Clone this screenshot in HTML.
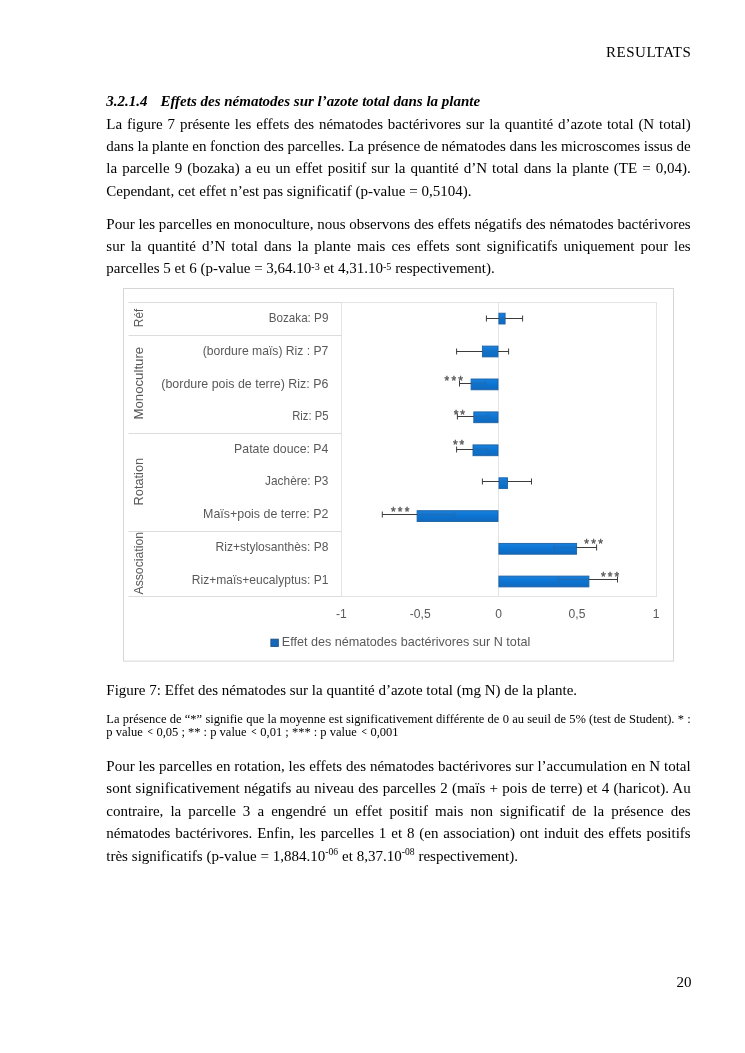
<!DOCTYPE html>
<html lang="fr"><head><meta charset="utf-8"><title>RESULTATS</title>
<style>
html,body{margin:0;padding:0;background:#fff;}
body{width:745px;height:1053px;position:relative;overflow:hidden;font-family:"Liberation Serif",serif;color:#000;}
.l{position:absolute;left:106.3px;width:584.4px;font-size:15px;line-height:20px;height:20px;white-space:nowrap;text-align:justify;text-align-last:justify;}
.l.e{text-align:left;text-align-last:left;width:auto;}
.s{font-size:12.5px;}
sup{font-size:10px;line-height:0;vertical-align:baseline;position:relative;top:-3.4px;}
sup.h{font-size:9.6px;top:-6px;}
.lt{display:inline-block;width:7px;padding-right:0.4px;text-align:right;text-align-last:right;font-size:9.5px;font-weight:bold;line-height:0;position:relative;top:-0.6px;}
#chart{position:absolute;left:0;top:0;}
#chart text{font-family:"Liberation Sans",sans-serif;fill:#595959;}
</style></head><body>
<div class="l e" style="left:auto;right:53.6px;top:42px;letter-spacing:0.52px;">RESULTATS</div>
<div class="l e" style="top:91px;font-weight:bold;font-style:italic;"><span style="margin-right:1.6px">3.2.1.4</span>&nbsp;&nbsp; Effets des nématodes sur l’azote total dans la plante</div>
<div class="l" style="top:114px;">La figure 7 présente les effets des nématodes bactérivores sur la quantité d’azote total (N total)</div>
<div class="l" style="top:136px;word-spacing:-0.08px;">dans la plante en fonction des parcelles. La présence de nématodes dans les microscomes issus de</div>
<div class="l" style="top:158px;">la parcelle 9 (bozaka) a eu un effet positif sur la quantité d’N total dans la plante (TE = 0,04).</div>
<div class="l e" style="top:181px;">Cependant, cet effet n’est pas significatif (p-value = 0,5104).</div>
<div class="l" style="top:214px;">Pour les parcelles en monoculture, nous observons des effets négatifs des nématodes bactérivores</div>
<div class="l" style="top:236px;">sur la quantité d’N total dans la plante mais ces effets sont significatifs uniquement pour les</div>
<div class="l e" style="top:258px;">parcelles 5 et 6 (p-value = 3,64.10<sup>-3</sup> et 4,31.10<sup>-5</sup> respectivement).</div>

<div class="l e" style="top:680px;">Figure 7: Effet des nématodes sur la quantité d’azote total (mg N) de la plante.</div>
<div class="l s" style="top:709px;">La présence de “*” signifie que la moyenne est significativement différente de 0 au seuil de 5% (test de Student). * :</div>
<div class="l s e" style="top:722px;">p value <span class="lt">&lt;</span> 0,05 ; ** : p value <span class="lt">&lt;</span> 0,01 ; *** : p value <span class="lt">&lt;</span> 0,001</div>
<div class="l" style="top:756px;">Pour les parcelles en rotation, les effets des nématodes bactérivores sur l’accumulation en N total</div>
<div class="l" style="top:778px;">sont significativement négatifs au niveau des parcelles 2 (maïs + pois de terre) et 4 (haricot). Au</div>
<div class="l" style="top:801px;">contraire, la parcelle 3 a engendré un effet positif mais non significatif de la présence des</div>
<div class="l" style="top:823px;">nématodes bactérivores. Enfin, les parcelles 1 et 8 (en association) ont induit des effets positifs</div>
<div class="l e" style="top:846px;word-spacing:0.15px;">très significatifs (p-value = 1,884.10<sup class="h">-06</sup> et 8,37.10<sup class="h">-08</sup> respectivement).</div>
<div class="l e" style="left:auto;right:53.6px;top:972px;">20</div>

<svg id="chart" width="745" height="1053" viewBox="0 0 745 1053">
<defs><linearGradient id="bg" x1="0" y1="0" x2="0" y2="1"><stop offset="0" stop-color="#1a80dc"/><stop offset="0.5" stop-color="#0b74d2"/><stop offset="1" stop-color="#1268bc"/></linearGradient></defs>
<rect x="123.5" y="288.5" width="550" height="372.6" fill="#fff" stroke="#d6d6d6"/>
<rect x="341.5" y="302.5" width="315" height="294" fill="none" stroke="#e4e4e4"/>
<path d="M128.5 302.5H341.5M128.5 335.5H341.5M128.5 433.5H341.5M128.5 531.5H341.5M128.5 596.5H341.5" stroke="#dcdcdc" fill="none"/>
<path d="M498.5 302.5V596.5" stroke="#e2e4e8" fill="none"/>
<rect x="498.9" y="313.2" width="6.2" height="10.8" fill="url(#bg)" stroke="#1c62a4" stroke-width="0.9"/>
<rect x="482.4" y="346.1" width="15.6" height="10.8" fill="url(#bg)" stroke="#1c62a4" stroke-width="0.9"/>
<rect x="471.1" y="379.0" width="26.9" height="10.8" fill="url(#bg)" stroke="#1c62a4" stroke-width="0.9"/>
<rect x="473.8" y="411.9" width="24.2" height="10.8" fill="url(#bg)" stroke="#1c62a4" stroke-width="0.9"/>
<rect x="473.0" y="444.9" width="25.0" height="10.8" fill="url(#bg)" stroke="#1c62a4" stroke-width="0.9"/>
<rect x="499.0" y="477.8" width="8.5" height="10.8" fill="url(#bg)" stroke="#1c62a4" stroke-width="0.9"/>
<rect x="417.1" y="510.7" width="80.9" height="10.8" fill="url(#bg)" stroke="#1c62a4" stroke-width="0.9"/>
<rect x="498.9" y="543.4" width="77.7" height="10.8" fill="url(#bg)" stroke="#1c62a4" stroke-width="0.9"/>
<rect x="498.9" y="576.1" width="90.0" height="10.8" fill="url(#bg)" stroke="#1c62a4" stroke-width="0.9"/>
<path d="M498.9 318.5H505.1" stroke="#35618c" stroke-opacity="0.3" stroke-width="1.8" fill="none"/>
<path d="M486.4 318.5H498.9M486.4 315.5V321.5M505.1 318.5H522.6M522.6 315.5V321.5" stroke="#3c3c3c" stroke-width="1" fill="none"/>
<path d="M482.4 351.5H498.0" stroke="#35618c" stroke-opacity="0.3" stroke-width="1.8" fill="none"/>
<path d="M456.6 351.5H482.4M456.6 348.5V354.5M498.0 351.5H508.6M508.6 348.5V354.5" stroke="#3c3c3c" stroke-width="1" fill="none"/>
<path d="M471.1 383.5H485.6" stroke="#35618c" stroke-opacity="0.3" stroke-width="1.8" fill="none"/>
<path d="M459.5 383.5H471.1M459.5 380.5V386.5" stroke="#3c3c3c" stroke-width="1" fill="none"/>
<path d="M485.6 380.5V386.5" stroke="#35618c" stroke-opacity="0.35" stroke-width="1.4" fill="none"/>
<path d="M473.8 416.5H488.0" stroke="#35618c" stroke-opacity="0.3" stroke-width="1.8" fill="none"/>
<path d="M457.4 416.5H473.8M457.4 413.5V419.5" stroke="#3c3c3c" stroke-width="1" fill="none"/>
<path d="M488.0 413.5V419.5" stroke="#35618c" stroke-opacity="0.35" stroke-width="1.4" fill="none"/>
<path d="M473.0 449.5H488.0" stroke="#35618c" stroke-opacity="0.3" stroke-width="1.8" fill="none"/>
<path d="M456.6 449.5H473.0M456.6 446.5V452.5" stroke="#3c3c3c" stroke-width="1" fill="none"/>
<path d="M488.0 446.5V452.5" stroke="#35618c" stroke-opacity="0.35" stroke-width="1.4" fill="none"/>
<path d="M499.0 481.5H507.5" stroke="#35618c" stroke-opacity="0.3" stroke-width="1.8" fill="none"/>
<path d="M482.4 481.5H499.0M482.4 478.5V484.5M507.5 481.5H531.5M531.5 478.5V484.5" stroke="#3c3c3c" stroke-width="1" fill="none"/>
<path d="M417.1 514.5H454.5" stroke="#35618c" stroke-opacity="0.3" stroke-width="1.8" fill="none"/>
<path d="M382.3 514.5H417.1M382.3 511.5V517.5" stroke="#3c3c3c" stroke-width="1" fill="none"/>
<path d="M454.5 511.5V517.5" stroke="#35618c" stroke-opacity="0.35" stroke-width="1.4" fill="none"/>
<path d="M554.0 547.5H576.6" stroke="#35618c" stroke-opacity="0.3" stroke-width="1.8" fill="none"/>
<path d="M576.6 547.5H596.6M596.6 544.5V550.5" stroke="#3c3c3c" stroke-width="1" fill="none"/>
<path d="M554.0 544.5V550.5" stroke="#35618c" stroke-opacity="0.35" stroke-width="1.4" fill="none"/>
<path d="M558.4 579.5H588.9" stroke="#35618c" stroke-opacity="0.3" stroke-width="1.8" fill="none"/>
<path d="M588.9 579.5H617.5M617.5 576.5V582.5" stroke="#3c3c3c" stroke-width="1" fill="none"/>
<path d="M558.4 576.5V582.5" stroke="#35618c" stroke-opacity="0.35" stroke-width="1.4" fill="none"/>
<text x="446.8" y="384.6" font-size="12" text-anchor="middle" stroke="#595959" stroke-width="0.4">*</text>
<text x="453.8" y="384.6" font-size="12" text-anchor="middle" stroke="#595959" stroke-width="0.4">*</text>
<text x="460.7" y="384.6" font-size="12" text-anchor="middle" stroke="#595959" stroke-width="0.4">*</text>
<text x="456.0" y="418.8" font-size="12" text-anchor="middle" stroke="#595959" stroke-width="0.4">*</text>
<text x="462.7" y="418.8" font-size="12" text-anchor="middle" stroke="#595959" stroke-width="0.4">*</text>
<text x="455.3" y="448.5" font-size="12" text-anchor="middle" stroke="#595959" stroke-width="0.4">*</text>
<text x="461.8" y="448.5" font-size="12" text-anchor="middle" stroke="#595959" stroke-width="0.4">*</text>
<text x="393.4" y="516.4" font-size="12" text-anchor="middle" stroke="#595959" stroke-width="0.4">*</text>
<text x="400.2" y="516.4" font-size="12" text-anchor="middle" stroke="#595959" stroke-width="0.4">*</text>
<text x="407.1" y="516.4" font-size="12" text-anchor="middle" stroke="#595959" stroke-width="0.4">*</text>
<text x="586.5" y="547.6" font-size="12" text-anchor="middle" stroke="#595959" stroke-width="0.4">*</text>
<text x="593.6" y="547.6" font-size="12" text-anchor="middle" stroke="#595959" stroke-width="0.4">*</text>
<text x="600.7" y="547.6" font-size="12" text-anchor="middle" stroke="#595959" stroke-width="0.4">*</text>
<text x="603.3" y="580.8" font-size="12" text-anchor="middle" stroke="#595959" stroke-width="0.4">*</text>
<text x="610.1" y="580.8" font-size="12" text-anchor="middle" stroke="#595959" stroke-width="0.4">*</text>
<text x="616.9" y="580.8" font-size="12" text-anchor="middle" stroke="#595959" stroke-width="0.4">*</text>
<text x="268.7" y="322.0" font-size="12.1" textLength="59.7" lengthAdjust="spacingAndGlyphs">Bozaka: P9</text>
<text x="202.7" y="354.7" font-size="12.1" textLength="125.7" lengthAdjust="spacingAndGlyphs">(bordure maïs) Riz : P7</text>
<text x="161.3" y="388.2" font-size="12.1" textLength="167.1" lengthAdjust="spacingAndGlyphs">(bordure pois de terre) Riz: P6</text>
<text x="292.2" y="420.0" font-size="12.1" textLength="36.2" lengthAdjust="spacingAndGlyphs">Riz: P5</text>
<text x="234.1" y="452.7" font-size="12.1" textLength="94.3" lengthAdjust="spacingAndGlyphs">Patate douce: P4</text>
<text x="265.1" y="485.4" font-size="12.1" textLength="63.3" lengthAdjust="spacingAndGlyphs">Jachère: P3</text>
<text x="203.1" y="518.0" font-size="12.1" textLength="125.3" lengthAdjust="spacingAndGlyphs">Maïs+pois de terre: P2</text>
<text x="215.6" y="550.7" font-size="12.1" textLength="112.8" lengthAdjust="spacingAndGlyphs">Riz+stylosanthès: P8</text>
<text x="191.8" y="583.8" font-size="12.1" textLength="136.6" lengthAdjust="spacingAndGlyphs">Riz+maïs+eucalyptus: P1</text>
<text transform="translate(143.4 327.2) rotate(-90)" font-size="12.1" textLength="18.6" lengthAdjust="spacingAndGlyphs">Réf</text>
<text transform="translate(143.4 419.6) rotate(-90)" font-size="12.1" textLength="72.8" lengthAdjust="spacingAndGlyphs">Monoculture</text>
<text transform="translate(143.4 505.4) rotate(-90)" font-size="12.1" textLength="47.5" lengthAdjust="spacingAndGlyphs">Rotation</text>
<text transform="translate(143.4 594.5) rotate(-90)" font-size="12.1" textLength="62.5" lengthAdjust="spacingAndGlyphs">Association</text>
<text x="341.3" y="617.9" font-size="12.1" text-anchor="middle">-1</text>
<text x="420.2" y="617.9" font-size="12.1" text-anchor="middle">-0,5</text>
<text x="498.5" y="617.9" font-size="12.1" text-anchor="middle">0</text>
<text x="577.0" y="617.9" font-size="12.1" text-anchor="middle">0,5</text>
<text x="656.0" y="617.9" font-size="12.1" text-anchor="middle">1</text>
<rect x="270.9" y="639.2" width="7.4" height="7.2" fill="#1468bc" stroke="#1d5388" stroke-width="1"/>
<text x="281.8" y="645.8" font-size="12.1" textLength="248.4" lengthAdjust="spacingAndGlyphs">Effet des nématodes bactérivores sur N total</text>
</svg>
</body></html>
